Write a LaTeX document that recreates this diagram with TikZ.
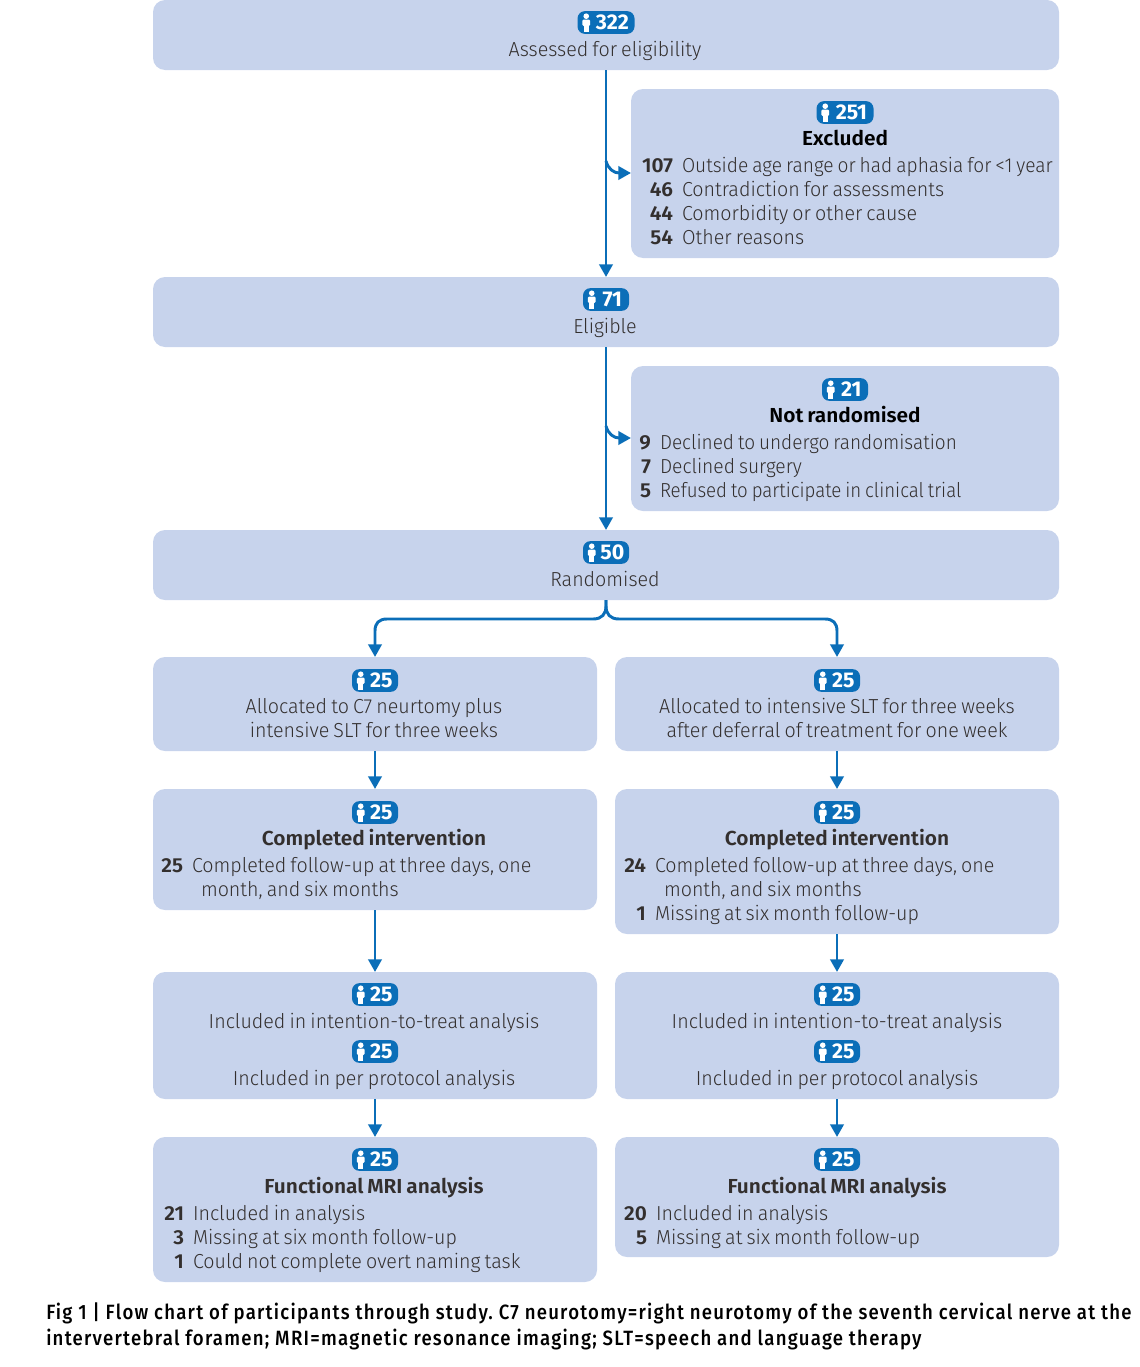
\documentclass[tikz,border=0pt]{standalone}
\usepackage{fontspec}
\usepackage{graphicx}
\usetikzlibrary{arrows.meta,positioning,calc}
\setmainfont{Fira Sans}[UprightFont=* Light,BoldFont=* SemiBold,UprightFeatures={FakeStretch=0.97},BoldFeatures={FakeStretch=1.03},WordSpace=0.75]
\newfontfamily\capfont{Fira Sans}[UprightFont=* Medium,FakeStretch=0.9,LetterSpace=6]
\newfontfamily\badgefont{Fira Sans}[UprightFont=* Bold]
\definecolor{boxfill}{HTML}{C7D3EC}
\definecolor{flow}{HTML}{0B6EB8}
\definecolor{ink}{HTML}{332F2E}
\newcounter{tn}
\tikzset{
 x=0.75pt,y=-0.75pt,
 flowbox/.style={fill=boxfill,rounded corners=9pt,inner sep=0pt,outer sep=0pt},
 conn/.style={draw=flow,line width=2.2pt,-{Triangle[width=10pt,length=9.5pt]}},
 label/.style={anchor=base,text=ink,font=\fontsize{15.2}{18}\selectfont,inner sep=0pt,outer sep=0pt},
 badgebox/.style={fill=flow,text=white,rounded corners=5.5pt,inner sep=0pt,minimum height=17pt,anchor=center,font=\badgefont\fontsize{16}{18}\selectfont},
 captext/.style={anchor=base west,inner sep=0pt,text=black,font=\capfont\fontsize{15.5}{18}\selectfont\frenchspacing},
}
\newcommand\mkbox[5]{\node[flowbox,minimum width=#4*0.75pt-#2*0.75pt,minimum height=#5*0.75pt-#3*0.75pt] (#1) at ({(#2+#4)/2},{(#3+#5)/2}) {};}
\newcommand\ctext[3]{\stepcounter{tn}\node[label] (t\arabic{tn}) at (#1,#2) {#3};}
\newcommand\ltext[3]{\stepcounter{tn}\node[label,anchor=base west] (t\arabic{tn}) at (#1,#2) {#3};}
\newcommand\rnum[3]{\stepcounter{tn}\node[label,anchor=base east] (t\arabic{tn}) at (#1,#2) {\bfseries #3};}
\newcommand\chead[3]{\stepcounter{tn}\node[label] (t\arabic{tn}) at (#1,#2) {\bfseries #3};}
\newcommand\cheadk[3]{\stepcounter{tn}\node[label,text=black] (t\arabic{tn}) at (#1,#2) {\bfseries #3};}
\newcommand\bdg[4]{\stepcounter{tn}%
 \node[badgebox,minimum width=#4*0.75pt] (b\arabic{tn}) at ({#1},{#2+0.5}) {\hspace{9.5pt}#3};
 \fill[white] ($(b\arabic{tn}.west)+(9,-6.3)$) circle (2.8);
 \fill[white,rounded corners=0.9pt] ($(b\arabic{tn}.west)+(5.2,-3)$) rectangle ($(b\arabic{tn}.west)+(12.8,3.5)$);
 \fill[white] ($(b\arabic{tn}.west)+(6.4,2)$) rectangle ($(b\arabic{tn}.west)+(11.6,9.8)$);}
\begin{document}
\begin{tikzpicture}
\useasboundingbox (0,0) rectangle (1139,1367);
% boxes
\mkbox{assess}{153}{0}{1059}{70}
\mkbox{excl}{631}{89}{1059}{258}
\mkbox{elig}{153}{277}{1059}{347}
\mkbox{notr}{631}{366}{1059}{511}
\mkbox{rand}{153}{530}{1059}{600}
\mkbox{allocL}{153}{657}{597}{751}
\mkbox{allocR}{615}{657}{1059}{751}
\mkbox{compL}{153}{789}{597}{910}
\mkbox{compR}{615}{789}{1059}{934}
\mkbox{inclL}{153}{972}{597}{1099}
\mkbox{inclR}{615}{972}{1059}{1099}
\mkbox{fmriL}{153}{1137}{597}{1282}
\mkbox{fmriR}{615}{1137}{1059}{1257}
% connectors
\draw[conn] (assess.south) -- (elig.north);
\draw[conn] (elig.south) -- (rand.north);
\coordinate (br1) at (606,161);
\coordinate (br2) at (606,426);
\coordinate (exin) at (631,173);
\coordinate (nrin) at (631,438);
\draw[conn] (br1) .. controls (608,169) and (614,173) .. (exin);
\draw[conn] (br2) .. controls (608,434) and (614,438) .. (nrin);
\draw[conn] (rand.south) -- (606,606) .. controls (606,614) and (610,619) .. (619,619) -- (825,619) .. controls (833,619) and (837,623) .. (837,631) -- (allocR.north);
\draw[conn] (rand.south) -- (606,606) .. controls (606,614) and (602,619) .. (593,619) -- (387,619) .. controls (379,619) and (375,623) .. (375,631) -- (allocL.north);
\draw[conn] (allocL.south) -- (compL.north);
\draw[conn] (allocR.south) -- (compR.north);
\draw[conn] (compL.south) -- (inclL.north);
\draw[conn] (compR.south) -- (inclR.north);
\draw[conn] (inclL.south) -- (fmriL.north);
\draw[conn] (inclR.south) -- (fmriR.north);
% assessed
\bdg{606}{22}{322}{57}
\ctext{605}{56}{Assessed for eligibility}
% excluded
\bdg{845}{112}{251}{57}
\cheadk{845}{145}{Excluded}
\rnum{673}{172}{107}\ltext{682}{172}{\scalebox{0.974}[1]{Outside age range or had aphasia for <1 year}}
\rnum{673}{196}{46}\ltext{682}{196}{Contradiction for assessments}
\rnum{673}{220}{44}\ltext{682}{220}{Comorbidity or other cause}
\rnum{673}{244}{54}\ltext{682}{244}{Other reasons}
% eligible
\bdg{606}{299}{71}{46}
\ctext{605}{333}{Eligible}
% not randomised
\bdg{845}{389}{21}{46}
\cheadk{845}{422}{Not randomised}
\rnum{651}{449}{9}\ltext{660}{449}{\scalebox{0.967}[1]{Declined to undergo randomisation}}
\rnum{651}{473}{7}\ltext{660}{473}{\scalebox{0.98}[1]{Declined surgery}}
\rnum{651}{497}{5}\ltext{660}{497}{\scalebox{0.95}[1]{Refused to participate in clinical trial}}
% randomised
\bdg{606}{552}{50}{46}
\ctext{605}{586}{Randomised}
% allocated
\bdg{375}{680}{25}{46}
\ctext{374}{713}{Allocated to C7 neurtomy plus}
\ctext{374}{737}{intensive SLT for three weeks}
\bdg{837}{680}{25}{46}
\ctext{837}{713}{Allocated to intensive SLT for three weeks}
\ctext{837}{737}{after deferral of treatment for one week}
% completed
\bdg{375}{812}{25}{46}
\chead{374}{845}{Completed intervention}
\rnum{183}{872}{25}\ltext{192}{872}{Completed follow-up at three days, one}
\ltext{201}{896}{month, and six months}
\bdg{837}{812}{25}{46}
\chead{837}{845}{Completed intervention}
\rnum{646}{872}{24}\ltext{655}{872}{Completed follow-up at three days, one}
\ltext{664}{896}{month, and six months}
\rnum{646}{920}{1}\ltext{655}{920}{Missing at six month follow-up}
% included
\bdg{375}{994}{25}{46}
\ctext{374}{1028}{Included in intention-to-treat analysis}
\bdg{375}{1051}{25}{46}
\ctext{374}{1085}{Included in per protocol analysis}
\bdg{837}{994}{25}{46}
\ctext{837}{1028}{Included in intention-to-treat analysis}
\bdg{837}{1051}{25}{46}
\ctext{837}{1085}{Included in per protocol analysis}
% fmri
\bdg{375}{1159}{25}{46}
\chead{374}{1193}{Functional MRI analysis}
\rnum{184}{1220}{21}\ltext{193}{1220}{Included in analysis}
\rnum{184}{1244}{3}\ltext{193}{1244}{Missing at six month follow-up}
\rnum{184}{1268}{1}\ltext{193}{1268}{Could not complete overt naming task}
\bdg{837}{1159}{25}{46}
\chead{837}{1193}{Functional MRI analysis}
\rnum{647}{1220}{20}\ltext{656}{1220}{Included in analysis}
\rnum{647}{1244}{5}\ltext{656}{1244}{Missing at six month follow-up}
% caption
\node[captext] (cap1) at (46,1319) {Fig 1 | Flow chart of participants through study. C7 neurotomy=right neurotomy of the seventh cervical nerve at the};
\node[captext] (cap2) at (46,1345) {intervertebral foramen; MRI=magnetic resonance imaging; SLT=speech and language therapy};
\end{tikzpicture}
\end{document}
